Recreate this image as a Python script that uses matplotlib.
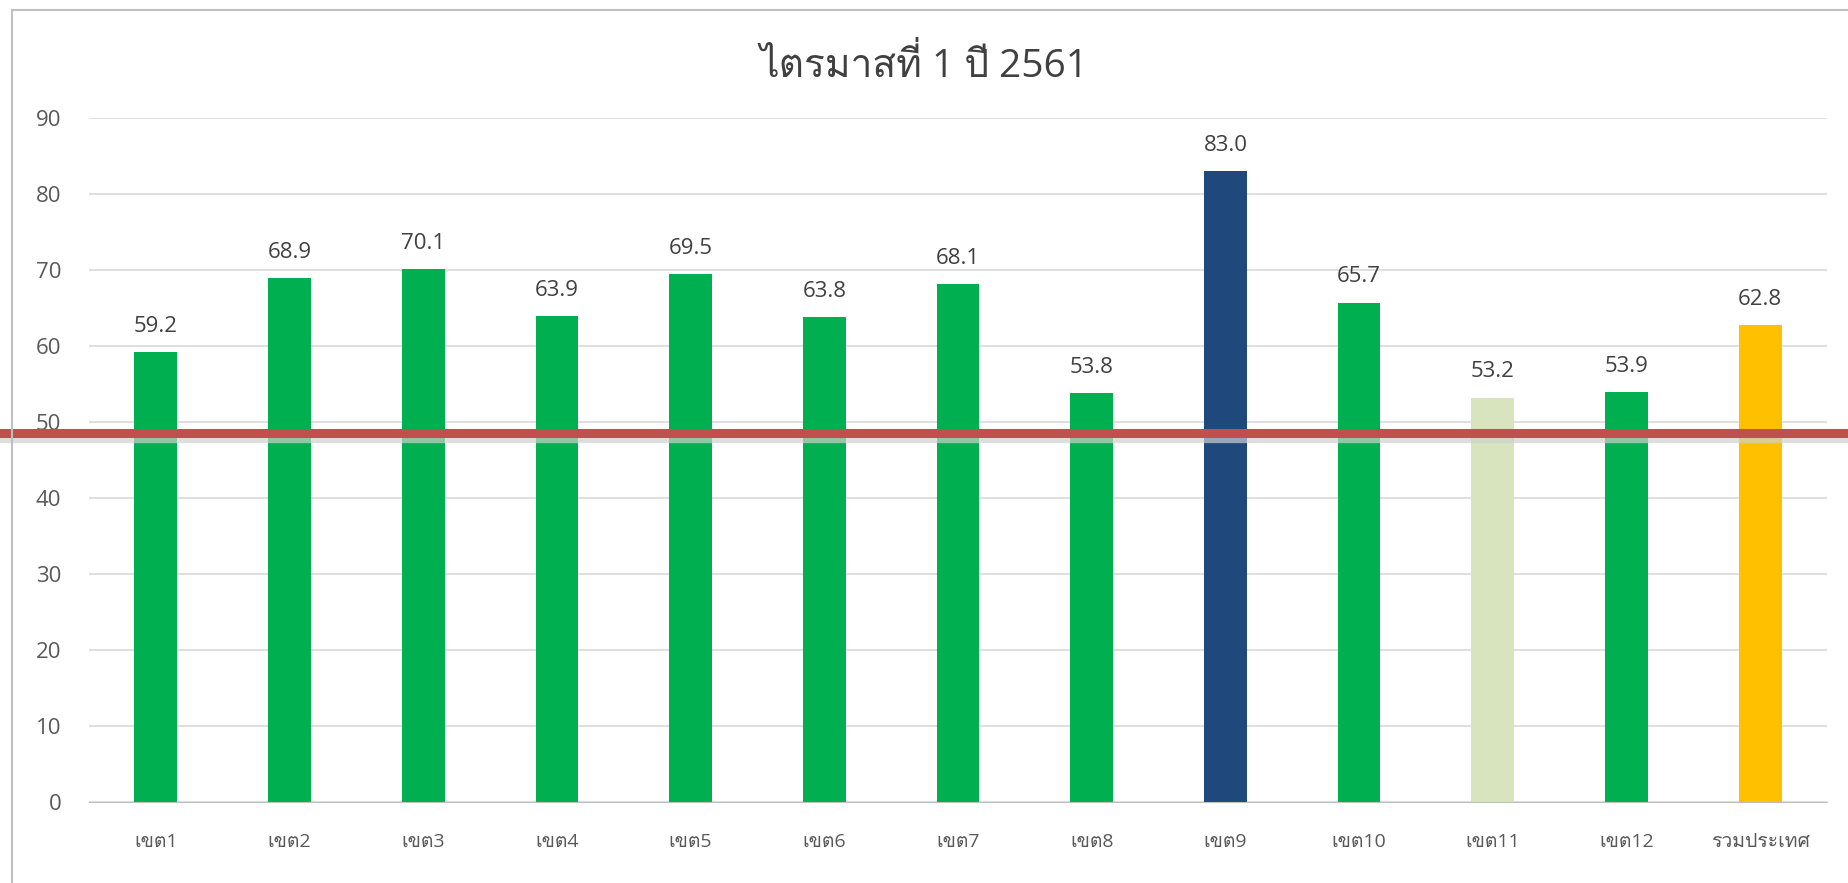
import matplotlib
matplotlib.use("Agg")
import matplotlib.pyplot as plt
from matplotlib import font_manager
from matplotlib.ft2font import FT2Font
import matplotlib.transforms as mtransforms

categories = ["เขต1", "เขต2", "เขต3", "เขต4", "เขต5", "เขต6", "เขต7",
              "เขต8", "เขต9", "เขต10", "เขต11", "เขต12", "รวมประเทศ"]
values = [59.2, 68.9, 70.1, 63.9, 69.5, 63.8, 68.1, 53.8, 83.0, 65.7, 53.2, 53.9, 62.8]
bar_colors = ["#00B050"] * 8 + ["#1F497D", "#00B050", "#D7E4BD", "#00B050", "#FFC000"]
target = 48.5


def thai_fonts():
    # fonts that actually carry Thai glyphs
    found = []
    for f in font_manager.fontManager.ttflist:
        try:
            if 0x0E44 in FT2Font(f.fname).get_charmap():
                if f.name not in found:
                    found.append(f.name)
        except Exception:
            pass
    return found


plt.rcParams['font.family'] = ['Open Sans'] + thai_fonts() + ['DejaVu Sans']

fig = plt.figure(figsize=(18.49, 8.83), dpi=100)
ax = fig.add_axes([89 / 1849, 1 - 802 / 883, (1827 - 89) / 1849, (802 - 118) / 883])

x = range(len(categories))
ax.bar(x, values, width=0.32, color=bar_colors, zorder=2)
for xi, v in zip(x, values):
    ax.text(xi, v + 2.0, "%.1f" % v, ha="center", va="bottom", fontsize=16, color="#404040")

ax.set_ylim(0, 90)
ax.set_xlim(-0.5, len(categories) - 0.5)
ax.set_yticks(range(0, 91, 10))
ax.grid(axis="y", color="#D9D9D9", linewidth=1.2, zorder=0)
for s in ["top", "right", "left"]:
    ax.spines[s].set_visible(False)
ax.spines["bottom"].set_color("#BFBFBF")
ax.tick_params(axis="both", length=0, labelsize=16, colors="#595959")
ax.tick_params(axis="y", pad=20)
ax.tick_params(axis="x", pad=22)
ax.set_xticks(list(x))
ax.set_xticklabels(categories, fontsize=14)

fig.suptitle("ไตรมาสที่ 1 ปี 2561", y=0.948, fontsize=28, color="#404040")

# target line across the whole picture, with a soft grey shadow
trans = mtransforms.blended_transform_factory(fig.transFigure, ax.transData)
ax.plot([0, 1], [target - 0.8, target - 0.8], transform=trans, color="#D0D0D0",
        linewidth=6, clip_on=False, zorder=3, alpha=0.7)
ax.plot([0, 1], [target, target], transform=trans, color="#C0504D",
        linewidth=6.5, clip_on=False, zorder=4)

# chart border
fig.patches.append(plt.Rectangle((12 / 1849, -0.01), 1.0, 1 - 10 / 883 + 0.01,
                                 transform=fig.transFigure, fill=False,
                                 edgecolor="#BFBFBF", linewidth=1.5))

fig.savefig("out.png", dpi=100)
